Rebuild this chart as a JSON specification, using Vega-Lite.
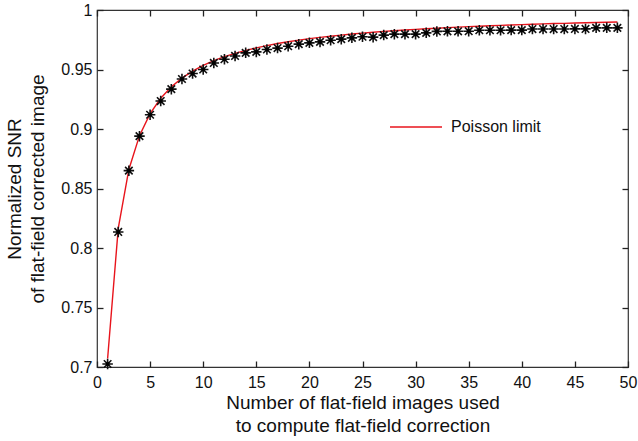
{
  "$schema": "https://vega.github.io/schema/vega-lite/v6.json",
  "width": 531,
  "height": 357,
  "autosize": "none",
  "padding": {"left": 97, "top": 10, "right": 10, "bottom": 74},
  "background": "white",
  "config": {
    "font": "Liberation Sans",
    "view": {"stroke": "#333", "strokeWidth": 1.2},
    "axis": {
      "grid": false,
      "domain": false,
      "tickColor": "#222",
      "tickSize": 6,
      "tickWidth": 1.3,
      "labelFlush": false,
      "labelColor": "#111",
      "titleColor": "#111",
      "labelFontSize": 16,
      "titleFontSize": 19,
      "titleFontWeight": "normal",
      "titleLineHeight": 23,
      "labelFont": "Liberation Sans",
      "titleFont": "Liberation Sans"
    }
  },
  "data": {
    "values": [
      {"n": 1, "measured": 0.7025, "poisson": 0.7071},
      {"n": 2, "measured": 0.8135, "poisson": 0.8165},
      {"n": 3, "measured": 0.8650, "poisson": 0.8660},
      {"n": 4, "measured": 0.8940, "poisson": 0.8944},
      {"n": 5, "measured": 0.9120, "poisson": 0.9129},
      {"n": 6, "measured": 0.9235, "poisson": 0.9258},
      {"n": 7, "measured": 0.9335, "poisson": 0.9354},
      {"n": 8, "measured": 0.9420, "poisson": 0.9428},
      {"n": 9, "measured": 0.9466, "poisson": 0.9487},
      {"n": 10, "measured": 0.9500, "poisson": 0.9535},
      {"n": 11, "measured": 0.9555, "poisson": 0.9574},
      {"n": 12, "measured": 0.9586, "poisson": 0.9608},
      {"n": 13, "measured": 0.9614, "poisson": 0.9636},
      {"n": 14, "measured": 0.9640, "poisson": 0.9661},
      {"n": 15, "measured": 0.9648, "poisson": 0.9682},
      {"n": 16, "measured": 0.9668, "poisson": 0.9701},
      {"n": 17, "measured": 0.9680, "poisson": 0.9718},
      {"n": 18, "measured": 0.9696, "poisson": 0.9733},
      {"n": 19, "measured": 0.9713, "poisson": 0.9747},
      {"n": 20, "measured": 0.9724, "poisson": 0.9759},
      {"n": 21, "measured": 0.9732, "poisson": 0.9770},
      {"n": 22, "measured": 0.9746, "poisson": 0.9780},
      {"n": 23, "measured": 0.9755, "poisson": 0.9789},
      {"n": 24, "measured": 0.9766, "poisson": 0.9798},
      {"n": 25, "measured": 0.9775, "poisson": 0.9806},
      {"n": 26, "measured": 0.9772, "poisson": 0.9813},
      {"n": 27, "measured": 0.9789, "poisson": 0.9820},
      {"n": 28, "measured": 0.9797, "poisson": 0.9826},
      {"n": 29, "measured": 0.9797, "poisson": 0.9832},
      {"n": 30, "measured": 0.9797, "poisson": 0.9837},
      {"n": 31, "measured": 0.9808, "poisson": 0.9843},
      {"n": 32, "measured": 0.9820, "poisson": 0.9847},
      {"n": 33, "measured": 0.9821, "poisson": 0.9852},
      {"n": 34, "measured": 0.9821, "poisson": 0.9856},
      {"n": 35, "measured": 0.9822, "poisson": 0.9860},
      {"n": 36, "measured": 0.9830, "poisson": 0.9864},
      {"n": 37, "measured": 0.9830, "poisson": 0.9868},
      {"n": 38, "measured": 0.9830, "poisson": 0.9871},
      {"n": 39, "measured": 0.9831, "poisson": 0.9874},
      {"n": 40, "measured": 0.9831, "poisson": 0.9877},
      {"n": 41, "measured": 0.9840, "poisson": 0.9880},
      {"n": 42, "measured": 0.9840, "poisson": 0.9883},
      {"n": 43, "measured": 0.9840, "poisson": 0.9886},
      {"n": 44, "measured": 0.9840, "poisson": 0.9888},
      {"n": 45, "measured": 0.9841, "poisson": 0.9891},
      {"n": 46, "measured": 0.9841, "poisson": 0.9893},
      {"n": 47, "measured": 0.9850, "poisson": 0.9895},
      {"n": 48, "measured": 0.9850, "poisson": 0.9897},
      {"n": 49, "measured": 0.9850, "poisson": 0.9899}
    ]
  },
  "layer": [
    {
      "mark": {"type": "line", "color": "#e8141c", "strokeWidth": 1.4},
      "encoding": {
        "x": {
          "field": "n", "type": "quantitative",
          "scale": {"domain": [0, 50], "nice": false},
          "axis": {
            "values": [0, 5, 10, 15, 20, 25, 30, 35, 40, 45, 50],
            "ticks": false,
            "labelPadding": 7,
            "titlePadding": 3,
            "title": ["Number of flat-field images used", "to compute flat-field correction"]
          }
        },
        "y": {
          "field": "poisson", "type": "quantitative",
          "scale": {"domain": [0.7, 1], "nice": false, "zero": false},
          "axis": {
            "values": [0.7, 0.75, 0.8, 0.85, 0.9, 0.95, 1],
            "ticks": false,
            "format": ".2~f",
            "labelPadding": 5,
            "titlePadding": 13,
            "title": ["Normalized SNR", "of flat-field corrected image"]
          }
        },
        "color": {
          "datum": "Poisson limit",
          "type": "nominal",
          "scale": {"range": ["#e8141c"]},
          "legend": {
            "title": null,
            "orient": "none",
            "legendX": 292,
            "legendY": 90,
            "symbolType": "stroke",
            "symbolSize": 2704,
            "symbolStrokeWidth": 1.4,
            "labelFontSize": 16,
            "labelFont": "Liberation Sans",
            "labelColor": "#111",
            "labelOffset": 8
          }
        }
      }
    },
    {
      "mark": {
        "type": "point",
        "shape": "M-1,0L1,0M0,-1L0,1M-0.72,-0.72L0.72,0.72M-0.72,0.72L0.72,-0.72",
        "stroke": "#111",
        "strokeWidth": 1.6,
        "filled": false,
        "size": 110,
        "opacity": 1
      },
      "encoding": {
        "x": {"field": "n", "type": "quantitative", "scale": {"domain": [0, 50], "nice": false}, "axis": {"orient": "top", "offset": -6, "labels": false, "title": null, "values": [0, 5, 10, 15, 20, 25, 30, 35, 40, 45, 50]}},
        "y": {"field": "measured", "type": "quantitative", "scale": {"domain": [0.7, 1], "nice": false, "zero": false}, "axis": {"orient": "right", "offset": -6, "labels": false, "title": null, "values": [0.7, 0.75, 0.8, 0.85, 0.9, 0.95, 1]}}
      }
    },
    {
      "mark": {"type": "point", "shape": "square", "filled": true, "color": "#000", "size": 12, "opacity": 1},
      "encoding": {
        "x": {"field": "n", "type": "quantitative", "scale": {"domain": [0, 50], "nice": false}, "axis": {"orient": "bottom", "offset": -6, "labels": false, "title": null, "values": [0, 5, 10, 15, 20, 25, 30, 35, 40, 45, 50]}},
        "y": {"field": "measured", "type": "quantitative", "scale": {"domain": [0.7, 1], "nice": false, "zero": false}, "axis": {"orient": "left", "offset": -6, "labels": false, "title": null, "values": [0.7, 0.75, 0.8, 0.85, 0.9, 0.95, 1]}}
      }
    }
  ],
  "resolve": {"scale": {"x": "independent", "y": "independent"}, "axis": {"x": "independent", "y": "independent"}}
}
